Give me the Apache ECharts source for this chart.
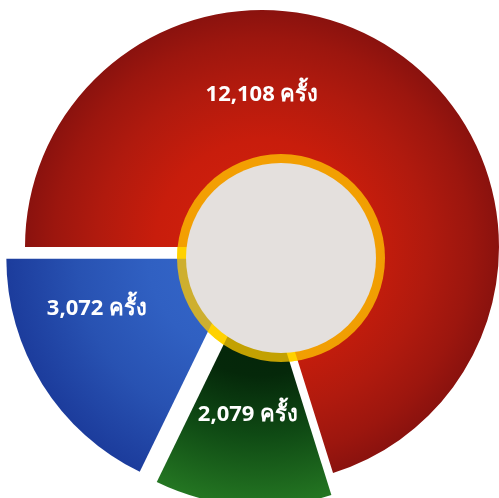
<!DOCTYPE html>
<html>
<head>
<meta charset="utf-8">
<script src="https://cdn.jsdelivr.net/npm/echarts@6/dist/echarts.min.js"></script>
<style>
  html, body { margin: 0; padding: 0; background: #ffffff; }
  #chart { width: 499px; height: 498px; }
</style>
</head>
<body>
<div id="chart"></div>
<script>
// Slice data, in drawing order (clockwise from the west side)
const categories = ['ส่วน ก', 'ส่วน ข', 'ส่วน ค'];
const values = [12108, 2079, 3072];
const unit = 'ครั้ง';
const pulledOut = [false, true, true];

// Layout
const CX = 262, CY = 247, R = 237;
const HUB = { x: 281, y: 258, ring: 104, core: 95 };
const labelSpots = [[262, 95], [248, 415], [97, 309]];

// Radial shading for each slice, anchored at the pie centre
function shade(stops) {
  return {
    type: 'radial', x: CX, y: CY, r: R, global: true,
    colorStops: stops.map(s => ({ offset: s[0], color: s[1] }))
  };
}
const fills = [
  shade([[0, '#d8230d'], [0.45, '#c81d0c'], [0.7, '#b01a0e'], [0.88, '#9c160e'], [1, '#8a120e']]),
  shade([[0, '#03200a'], [0.45, '#05280a'], [0.7, '#0f4a14'], [1, '#247622']]),
  shade([[0, '#3668cc'], [0.4, '#3060c2'], [0.7, '#2852b2'], [1, '#1c3c9c']])
];

const fmt = n => n.toLocaleString('en-US');
const labelFont = '"Noto Sans", "DejaVu Sans", sans-serif';

const chart = echarts.init(document.getElementById('chart'), null, { renderer: 'canvas' });
chart.setOption({
  animation: false,
  backgroundColor: '#ffffff',
  series: [{
    type: 'pie',
    z: 2,
    center: [CX, CY],
    radius: [0, R],
    startAngle: 180,
    clockwise: true,
    selectedMode: 'multiple',
    selectedOffset: 22,
    emphasis: { disabled: true },
    label: { show: false },
    labelLine: { show: false },
    data: values.map((v, i) => ({
      name: categories[i],
      value: v,
      selected: pulledOut[i],
      itemStyle: { color: fills[i] }
    }))
  }],
  graphic: [
    // solid yellow ring underneath, visible through the gaps between slices
    {
      type: 'circle', z: 0,
      shape: { cx: HUB.x, cy: HUB.y, r: HUB.ring },
      style: { fill: '#ffee00' }
    },
    // translucent ring over the slices
    {
      type: 'circle', z: 100,
      shape: { cx: HUB.x, cy: HUB.y, r: HUB.ring },
      style: { fill: 'rgba(255,200,0,0.76)' }
    },
    {
      type: 'circle', z: 101,
      shape: { cx: HUB.x, cy: HUB.y, r: HUB.core },
      style: { fill: '#e4e0dd' }
    }
  ].concat(values.map((v, i) => ({
    type: 'text', z: 110,
    x: labelSpots[i][0], y: labelSpots[i][1],
    style: {
      text: fmt(v) + ' ' + unit,
      fill: '#ffffff',
      font: 'bold 22px ' + labelFont,
      align: 'center',
      verticalAlign: 'middle'
    }
  })))
});
</script>
</body>
</html>
